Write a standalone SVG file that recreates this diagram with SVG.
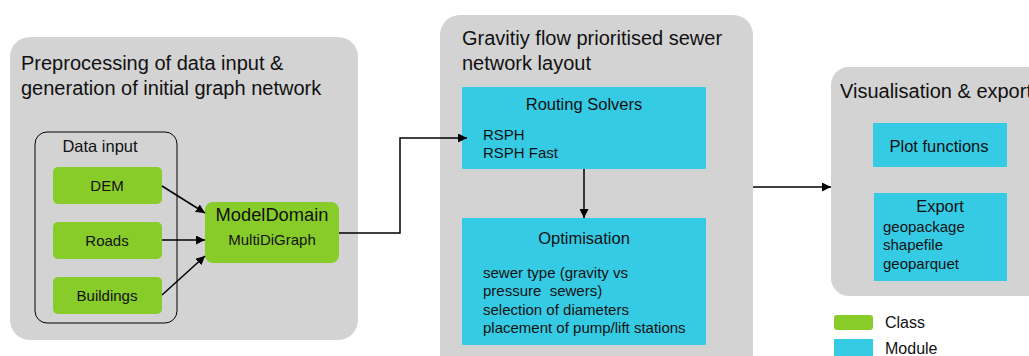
<svg xmlns="http://www.w3.org/2000/svg" width="1029" height="356" viewBox="0 0 1029 356">
<defs>
<style>
text{font-family:"Liberation Sans",Arial,sans-serif;fill:#111;white-space:pre}
.panel{fill:#d3d3d3}
.cls{fill:#88cc2a}
.mod{fill:#35cbe5}
.t19{font-size:20px}
.t16{font-size:16.5px}
.t14{font-size:15px}
.c{text-anchor:middle}
.conn{fill:none;stroke:#000;stroke-width:1.5}
</style>
<marker id="ah" viewBox="0 0 10 10" refX="10" refY="5" markerWidth="9" markerHeight="9" markerUnits="userSpaceOnUse" orient="auto">
<path d="M0,0 L10,5 L0,10 z" fill="#000"/>
</marker>
</defs>
<rect width="1029" height="356" fill="#fff"/>
<g id="panel-preprocessing">
<rect class="panel" x="10" y="37" width="348" height="303" rx="20"/>
<text class="t19" x="21" y="70">Preprocessing of data input &amp;</text>
<text class="t19" x="21" y="95">generation of initial graph network</text>
</g>
<g id="data-input">
<rect x="35" y="132" width="142" height="191" rx="12" fill="none" stroke="#000" stroke-width="1"/>
<text class="t16 c" x="100" y="152">Data input</text>
</g>
<g id="dem"><rect class="cls" x="53" y="167" width="109" height="37" rx="5"/><text class="t14 c" x="107" y="191">DEM</text></g>
<g id="roads"><rect class="cls" x="53" y="222" width="109" height="37" rx="5"/><text class="t14 c" x="107" y="246">Roads</text></g>
<g id="buildings"><rect class="cls" x="53" y="277" width="109" height="37" rx="5"/><text class="t14 c" x="107" y="301">Buildings</text></g>
<g id="modeldomain"><rect class="cls" x="205" y="202" width="134" height="61" rx="8"/><text class="c" x="272" y="221" font-size="18.3">ModelDomain</text><text class="t14 c" x="272" y="245">MultiDiGraph</text></g>
<g id="panel-gravity">
<rect class="panel" x="440" y="15" width="313" height="360" rx="20"/>
<text class="t19" x="462" y="45">Gravitiy flow prioritised sewer</text>
<text class="t19" x="462" y="70">network layout</text>
</g>
<g id="routing"><rect class="mod" x="462" y="87" width="244" height="82"/>
<text class="t16 c" x="584" y="110">Routing Solvers</text>
<text class="t14" x="483" y="140">RSPH</text>
<text class="t14" x="483" y="158">RSPH Fast</text></g>
<g id="optimisation"><rect class="mod" x="462" y="218" width="244" height="127"/>
<text class="t16 c" x="584" y="244">Optimisation</text>
<text class="t14" x="483" y="278">sewer type (gravity vs</text>
<text class="t14" x="483" y="296">pressure  sewers)</text>
<text class="t14" x="483" y="315">selection of diameters</text>
<text class="t14" x="483" y="333">placement of pump/lift stations</text></g>
<g id="panel-vis">
<rect class="panel" x="831" y="67" width="220" height="229" rx="18"/>
<text class="t19" x="840" y="98">Visualisation &amp; export</text>
</g>
<g id="plot"><rect class="mod" x="873" y="123" width="134" height="44"/><text class="t16 c" x="939" y="152">Plot functions</text></g>
<g id="export"><rect class="mod" x="874" y="193" width="133" height="88"/>
<text class="t16 c" x="940" y="212">Export</text>
<text class="t14" x="883" y="232">geopackage</text>
<text class="t14" x="883" y="250">shapefile</text>
<text class="t14" x="883" y="269">geoparquet</text></g>
<g id="legend">
<rect class="cls" x="834" y="315" width="39" height="15" rx="3"/><text x="885" y="328" font-size="16">Class</text>
<rect class="mod" x="834" y="339" width="39" height="20"/><text x="885" y="354" font-size="16">Module</text>
</g>
<g id="connectors">
<path class="conn" d="M162,186 L205,213" marker-end="url(#ah)"/>
<path class="conn" d="M162,240 L205,240" marker-end="url(#ah)"/>
<path class="conn" d="M162,295 L205,256" marker-end="url(#ah)"/>
<path class="conn" d="M339,233 H400 V138 H467" marker-end="url(#ah)"/>
<path class="conn" d="M584,169 V218" marker-end="url(#ah)"/>
<path class="conn" d="M753,187 H831" marker-end="url(#ah)"/>
</g>
</svg>
